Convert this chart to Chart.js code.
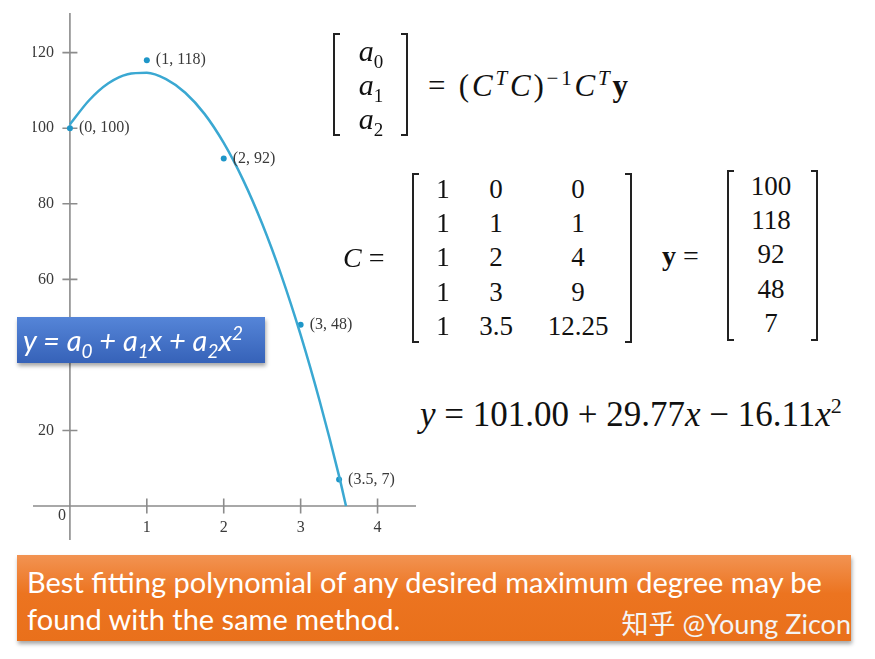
<!DOCTYPE html>
<html>
<head>
<meta charset="utf-8">
<script src="https://cdn.jsdelivr.net/npm/chart.js@4.4.1/dist/chart.umd.min.js"></script>
<style>
  html, body { margin: 0; padding: 0; background: #fff; }
  #page { position: relative; width: 875px; height: 659px; overflow: hidden; }
  #plot { position: absolute; left: 33px; top: 13px; width: 383px; height: 527px; }
  .t { position: absolute; white-space: nowrap; line-height: 1; }
  .serif { font-family: "Liberation Serif", "DejaVu Serif", serif; color: #111; }
  .it { font-style: italic; }
  .brL, .brR { position: absolute; border: 2px solid #222; width: 7px; box-sizing: border-box; }
  .brL { border-right: none; }
  .brR { border-left: none; }
  sub, sup { line-height: 0; }
  #box {
    position: absolute; left: 17px; top: 317px; width: 248px; height: 46px;
    background: linear-gradient(#5585d8, #3662b8);
    box-shadow: 1px 3px 4px rgba(0,0,0,0.35);
  }
  #box span { position: absolute; left: 6px; top: 5px; font: italic 29px Lato, "Open Sans", sans-serif; color: #fff; white-space: nowrap; }
  #banner {
    position: absolute; left: 17px; top: 555px; width: 834px; height: 86px;
    background: linear-gradient(#f29352, #ec7420 45%, #e9701b);
    box-shadow: 1px 3px 4px rgba(0,0,0,0.35);
    font-family: Lato, "Open Sans", sans-serif; color: #fff;
  }
  #banner .l { position: absolute; left: 10px; font-size: 29px; white-space: nowrap; }
  #mark { position: absolute; right: 0; top: 48px; font-size: 27px; white-space: nowrap; color: #f4f4f4; }
  #mark .cn { font-family: "Noto Sans CJK SC", sans-serif; }
</style>
</head>
<body>
<div id="page">
  <div id="plot"><canvas id="chart"></canvas></div>

  <!-- coefficient vector and normal equation -->
  <div class="brL" style="left:333px;top:33px;height:103px;"></div>
  <div class="brR" style="left:401px;top:33px;height:103px;"></div>
  <div class="t serif" id="eq1" style="left:428px;top:70px;font-size:31px;letter-spacing:2.8px;">
    = (<span class="it">C</span><sup style="font-size:21px" class="it">T</sup><span class="it">C</span>)<sup style="font-size:21px">&minus;1</sup><span class="it">C</span><sup style="font-size:21px" class="it">T</sup><b>y</b>
  </div>

  <!-- design matrix and observation vector -->
  <div class="t serif it" style="left:343px;top:244px;font-size:28px;">C <span style="font-style:normal">=</span></div>
  <div class="brL" style="left:412px;top:173px;height:170px;"></div>
  <div class="brR" style="left:625px;top:173px;height:170px;"></div>
  <div class="t serif" style="left:662px;top:242px;font-size:28px;"><b>y</b> =</div>
  <div class="brL" style="left:727px;top:170px;height:171px;"></div>
  <div class="brR" style="left:811px;top:170px;height:171px;"></div>

  <div class="t" id="fit" style="left:420px;top:397px;font-family:'Liberation Serif',serif;font-size:35px;color:#111;">
    <span class="it">y</span> = 101.00 + 29.77<span class="it">x</span> &minus; 16.11<span class="it">x</span><sup style="font-size:22px">2</sup>
  </div>

  <div id="box"><span>y = a<sub style="font-size:19px">0</sub> + a<sub style="font-size:19px">1</sub>x + a<sub style="font-size:19px">2</sub>x<sup style="font-size:19px">2</sup></span></div>

  <div id="banner">
    <div class="l" style="top:9px;">Best fitting polynomial of any desired maximum degree may be</div>
    <div class="l" style="top:46px;">found with the same method.</div>
    <div id="mark"><span class="cn">知乎</span> @Young Zicon</div>
  </div>
</div>

<script>
// data points
const xValues = [0, 1, 2, 3, 3.5];
const yValues = [100, 118, 92, 48, 7];
const pointLabels = ['(0, 100)', '(1, 118)', '(2, 92)', '(3, 48)', '(3.5, 7)'];

// fitted curve
const fitX = [0, 0.25, 0.5, 0.75, 1, 1.25, 1.5, 1.75, 2, 2.25, 2.5, 2.75, 3, 3.25, 3.5, 3.59];
const fitY = [101, 107.4, 111.9, 114.3, 114.7, 113.0, 109.4, 103.8, 96.1, 86.4, 74.7, 61.0, 45.3, 27.6, 7.9, 0];

// ticks
const xTicks = [1, 2, 3, 4];
const yTicks = [20, 40, 60, 80, 100, 120];

// matrix text
const aNames = ['0', '1', '2'];
const cRows = [['1', '0', '0'], ['1', '1', '1'], ['1', '2', '4'], ['1', '3', '9'], ['1', '3.5', '12.25']];

function place(parent, html, x, y, size) {
    let d = document.createElement('div');
    d.className = 't serif';
    d.style.left = x + 'px';
    d.style.top = y + 'px';
    d.style.fontSize = size + 'px';
    d.style.transform = 'translate(-50%, -50%)';
    d.innerHTML = html;
    parent.appendChild(d);
}

const page = document.getElementById('page');
// a0, a1, a2
aNames.forEach((n, i) => {
    place(page, '<span class="it">a</span><sub style="font-size:19px">' + n + '</sub>', 371, 51 + i * 34, 30);
});
// C matrix columns
const colX = [443, 496, 578];
const rowY = [189, 223, 257, 292, 326];
cRows.forEach((row, r) => {
    row.forEach((v, c) => place(page, v, colX[c], rowY[r], 27));
});
// y vector uses the data values
yValues.forEach((v, r) => place(page, String(v), 771, rowY[r] - 3, 27));

const axisColor = '#8c8c8c';
const curveColor = 'rgb(58, 168, 210)';
const pointColor = 'rgb(30, 150, 200)';

// axes through the origin, crossing tick marks and their labels
const axes = {
    id: 'axes',
    beforeDatasetsDraw(chart) {
        const ctx = chart.ctx;
        const xs = chart.scales.x, ys = chart.scales.y;
        const x0 = xs.getPixelForValue(0), y0 = ys.getPixelForValue(0);
        ctx.save();
        ctx.strokeStyle = axisColor;
        ctx.lineWidth = 1.6;
        ctx.beginPath();
        ctx.moveTo(xs.left, y0);
        ctx.lineTo(xs.right, y0);
        ctx.moveTo(x0, ys.top);
        ctx.lineTo(x0, ys.bottom);
        xTicks.forEach(v => {
            let px = xs.getPixelForValue(v);
            ctx.moveTo(px, y0 - 7.5);
            ctx.lineTo(px, y0 + 7.5);
        });
        yTicks.forEach(v => {
            let py = ys.getPixelForValue(v);
            ctx.moveTo(x0 - 7.5, py);
            ctx.lineTo(x0 + 7.5, py);
        });
        ctx.stroke();

        ctx.fillStyle = '#3a3a3a';
        ctx.font = '16px "Liberation Serif", serif';
        ctx.textBaseline = 'middle';
        ctx.textAlign = 'center';
        xTicks.forEach(v => ctx.fillText(String(v), xs.getPixelForValue(v), y0 + 22));
        ctx.fillText('0', x0 - 8, y0 + 10);
        ctx.textAlign = 'right';
        yTicks.forEach(v => ctx.fillText(String(v), x0 - 16, ys.getPixelForValue(v)));
        ctx.restore();
    },
    afterDraw(chart) {
        const ctx = chart.ctx;
        ctx.save();
        ctx.fillStyle = '#3a3a3a';
        ctx.textBaseline = 'middle';
        ctx.textAlign = 'left';
        ctx.font = '16px "Liberation Serif", serif';
        const meta = chart.getDatasetMeta(1);
        meta.data.forEach((pt, i) => {
            ctx.fillText(pointLabels[i], pt.x + 9, pt.y);
        });
        ctx.restore();
    }
};

new Chart(document.getElementById('chart'), {
    type: 'scatter',
    data: {
        datasets: [{
            label: 'fit',
            data: fitX.map((x, i) => ({ x: x, y: fitY[i] })),
            showLine: true,
            borderColor: curveColor,
            borderWidth: 2.5,
            pointRadius: 0,
            cubicInterpolationMode: 'monotone'
        }, {
            label: 'data',
            data: xValues.map((x, i) => ({ x: x, y: yValues[i] })),
            backgroundColor: pointColor,
            borderColor: pointColor,
            pointRadius: 3,
            borderWidth: 0
        }]
    },
    options: {
        responsive: true,
        maintainAspectRatio: false,
        animation: false,
        layout: { padding: 0, autoPadding: false },
        plugins: { legend: { display: false }, tooltip: { enabled: false } },
        scales: {
            x: { type: 'linear', display: false, min: -0.48, max: 4.5 },
            y: { type: 'linear', display: false, min: -9, max: 130.5 }
        }
    },
    plugins: [axes]
});
</script>
</body>
</html>
